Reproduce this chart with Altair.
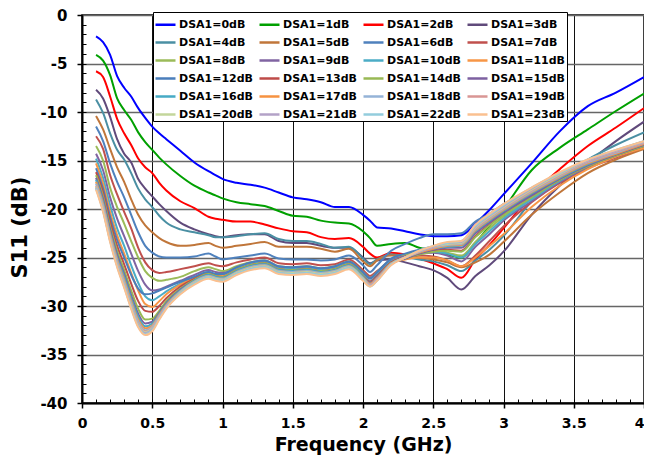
import altair as alt
import pandas as pd

FREQ = [0.1, 0.15, 0.2, 0.25, 0.3, 0.35, 0.4, 0.45, 0.5, 0.55, 0.6,
        0.7, 0.8, 0.9, 0.95, 1.0,
        1.1, 1.2, 1.3, 1.4, 1.5, 1.6, 1.7, 1.8, 1.9,
        2.0, 2.05, 2.1,
        2.2, 2.3, 2.4, 2.5, 2.6, 2.7, 2.8, 2.9, 3.0,
        3.2, 3.4, 3.6, 3.8, 4.0]

NAMES = ["DSA1=%ddB" % i for i in range(24)]

COLORS = ["#0000FF", "#00A000", "#FF0000", "#604A7B", "#4A8FA3", "#C0763A",
          "#4F81BD", "#C0504D", "#9BBB59", "#8064A2", "#4BACC6", "#F79646",
          "#4A7EBB", "#BE4B48", "#98B954", "#7D60A0", "#46AAC5", "#F69240",
          "#95B3D7", "#D99694", "#C3D69B", "#B3A2C7", "#93CDDD", "#FAC090"]

S0 = [-2.2, -2.8, -4.1, -6.3, -7.5, -8.4, -9.6, -10.6, -11.5, -12.2, -12.8,
      -14.0, -15.2, -16.1, -16.5, -16.9,
      -17.3, -17.5, -17.8, -18.3, -18.8, -19.0, -19.3, -19.8, -19.8,
      -20.6, -21.2, -21.9,
      -22.0, -22.3, -22.6, -22.8, -22.8, -22.7, -21.5, -20.1, -18.5,
      -15.3, -12.0, -9.4, -8.0, -6.4]
S1 = [-4.1, -4.7, -6.2, -8.6, -9.8, -10.8, -12.1, -13.1, -13.9, -14.7, -15.4,
      -16.6, -17.6, -18.3, -18.6, -18.9,
      -19.3, -19.5, -19.7, -20.2, -20.7, -20.8, -21.2, -21.4, -21.5,
      -22.3, -23.0, -23.8,
      -23.6, -23.5, -24.0, -24.3, -24.7, -25.0, -23.5, -21.8, -20.0,
      -16.0, -13.7, -11.8, -9.9, -8.1]
S2 = [-5.8, -6.4, -8.4, -10.7, -12.2, -13.4, -14.8, -15.7, -16.3, -17.3, -18.1,
      -19.2, -19.9, -20.8, -21.0, -21.1,
      -21.3, -21.3, -21.6, -22.0, -22.3, -22.4, -22.9, -23.1, -23.0,
      -23.9, -24.6, -25.0,
      -24.5, -24.7, -25.1, -25.6, -26.2, -27.1, -25.2, -23.7, -22.0,
      -18.5, -15.9, -13.5, -11.6, -9.6]
S3 = [-7.7, -8.6, -10.5, -12.8, -14.3, -15.2, -16.9, -17.9, -18.7, -19.5, -20.2,
      -21.4, -22.1, -22.6, -22.8, -22.9,
      -22.7, -22.6, -22.6, -23.3, -23.5, -23.5, -23.8, -24.0, -24.0,
      -25.0, -25.6, -25.3,
      -25.2, -25.5, -25.9, -26.3, -27.1, -28.3, -26.9, -25.8, -24.4,
      -20.6, -17.6, -15.2, -13.0, -11.0]
S4 = [-8.7, -10.1, -12.2, -13.9, -14.9, -16.3, -17.9, -19.0, -19.8, -20.7, -21.4,
      -22.1, -22.4, -22.7, -22.9, -22.9,
      -22.8, -22.6, -22.5, -23.1, -23.3, -23.3, -23.6, -24.0, -23.9,
      -25.1, -25.7, -25.2,
      -24.7, -24.9, -25.2, -25.4, -25.8, -26.4, -25.3, -24.2, -22.8,
      -19.2, -16.8, -14.9, -13.4, -12.1]
S5 = [-10.4, -11.8, -13.8, -15.7, -17.2, -19.0, -20.6, -21.7, -22.4, -23.0, -23.4,
      -23.8, -23.7, -23.5, -23.8, -24.0,
      -23.8, -23.6, -23.4, -23.9, -23.9, -23.9, -24.1, -24.4, -24.1,
      -25.4, -25.9, -25.3,
      -24.8, -24.8, -25.0, -25.2, -25.5, -26.0, -25.5, -24.7, -23.4,
      -20.6, -18.3, -16.3, -14.9, -13.8]
S6 = [-11.5, -13.0, -15.3, -17.2, -18.8, -20.6, -22.4, -23.8, -24.5, -24.9, -25.0,
      -25.0, -24.9, -24.6, -24.9, -25.2,
      -25.0, -24.8, -24.6, -25.1, -25.2, -25.2, -25.3, -25.2, -24.8,
      -25.8, -26.5, -25.8,
      -24.3, -23.6, -23.0, -22.6, -22.6, -22.5, -21.3, -20.5, -19.5,
      -18.0, -16.4, -15.0, -14.0, -13.0]
S7 = [-12.5, -13.8, -16.5, -18.5, -20.3, -22.0, -24.0, -25.5, -26.3, -26.6, -26.5,
      -26.2, -25.9, -25.6, -25.8, -25.9,
      -25.5, -25.2, -25.0, -25.6, -25.7, -25.6, -25.8, -25.7, -25.2,
      -26.3, -26.9, -26.4,
      -25.3, -24.9, -24.8, -24.9, -25.3, -25.9, -24.8, -23.3, -21.8,
      -19.3, -17.3, -15.8, -14.7, -13.6]
S8 = [-13.5, -15.0, -17.8, -19.8, -21.5, -23.3, -25.0, -26.4, -27.1, -27.4, -27.3,
      -27.0, -26.4, -26.0, -26.2, -26.4,
      -25.9, -25.5, -25.3, -25.9, -26.0, -25.9, -26.1, -25.9, -25.4,
      -26.5, -27.1, -26.5,
      -25.2, -24.7, -24.4, -24.3, -24.5, -24.8, -23.4, -22.0, -20.8,
      -18.9, -17.0, -15.6, -14.5, -13.5]
S9 = [-14.3, -16.0, -18.8, -21.0, -22.8, -24.6, -26.4, -27.8, -28.4, -28.3, -28.0,
      -27.4, -26.8, -26.3, -26.5, -26.6,
      -26.1, -25.6, -25.4, -26.0, -26.1, -26.0, -26.2, -26.0, -25.5,
      -26.6, -27.2, -26.6,
      -25.3, -24.9, -24.6, -24.5, -24.8, -25.4, -23.9, -22.6, -21.2,
      -19.2, -17.2, -15.7, -14.6, -13.6]
S10 = [-14.8, -16.8, -19.6, -22.0, -23.8, -25.8, -27.6, -29.0, -29.4, -29.0, -28.5,
       -27.7, -27.0, -26.5, -26.7, -26.8,
       -26.2, -25.7, -25.5, -26.1, -26.2, -26.1, -26.3, -26.1, -25.6,
       -26.8, -27.4, -26.8,
       -25.4, -25.0, -24.6, -24.4, -24.6, -25.0, -23.6, -22.3, -21.0,
       -19.0, -17.1, -15.6, -14.5, -13.5]
S11 = [-15.3, -17.4, -20.3, -22.7, -24.6, -26.6, -28.4, -29.8, -30.1, -29.5, -28.8,
       -27.8, -27.1, -26.6, -26.8, -26.9,
       -26.3, -25.8, -25.6, -26.2, -26.3, -26.2, -26.4, -26.2, -25.7,
       -26.9, -27.5, -27.0,
       -25.6, -25.2, -25.0, -25.0, -25.3, -25.9, -25.0, -23.8, -22.6,
       -19.8, -17.6, -15.9, -14.6, -13.7]
S12 = [-15.8, -17.9, -20.8, -23.2, -25.0, -26.8, -28.2, -28.8, -28.7, -28.4, -28.1,
       -27.5, -27.0, -26.5, -26.7, -26.7,
       -26.0, -25.5, -25.3, -25.9, -26.0, -25.9, -26.1, -25.9, -25.4,
       -26.5, -27.1, -26.5,
       -25.1, -24.6, -24.2, -23.9, -23.7, -23.7, -22.2, -21.2, -20.2,
       -18.5, -16.8, -15.4, -14.4, -13.3]
S13 = [-16.2, -18.3, -21.3, -23.8, -25.7, -27.7, -29.5, -30.5, -30.6, -30.0, -29.2,
       -28.0, -27.2, -26.7, -26.9, -27.0,
       -26.3, -25.8, -25.6, -26.2, -26.3, -26.2, -26.4, -26.2, -25.7,
       -26.9, -27.5, -26.9,
       -25.5, -25.0, -24.6, -24.3, -24.2, -24.3, -22.8, -21.6, -20.5,
       -18.7, -17.0, -15.6, -14.5, -13.5]
S14 = [-16.5, -18.7, -21.8, -24.3, -26.3, -28.4, -30.3, -31.4, -31.3, -30.5, -29.5,
       -28.2, -27.3, -26.7, -26.9, -27.0,
       -26.3, -25.8, -25.6, -26.2, -26.3, -26.2, -26.4, -26.2, -25.7,
       -26.9, -27.6, -27.0,
       -25.6, -25.1, -24.7, -24.4, -24.3, -24.4, -22.9, -21.7, -20.6,
       -18.8, -17.0, -15.6, -14.5, -13.5]
S15 = [-16.8, -19.0, -22.1, -24.7, -26.7, -28.9, -30.8, -31.8, -31.6, -30.7, -29.7,
       -28.3, -27.4, -26.8, -27.0, -27.1,
       -26.4, -25.9, -25.7, -26.3, -26.4, -26.3, -26.5, -26.3, -25.8,
       -27.0, -27.6, -27.0,
       -25.6, -25.1, -24.6, -24.2, -24.0, -24.0, -22.5, -21.4, -20.4,
       -18.6, -16.9, -15.5, -14.4, -13.4]
S16 = [-17.0, -19.3, -22.4, -25.0, -27.0, -29.2, -31.1, -32.1, -31.8, -30.8, -29.8,
       -28.4, -27.4, -26.8, -27.0, -27.1,
       -26.4, -25.9, -25.7, -26.3, -26.4, -26.3, -26.5, -26.3, -25.8,
       -27.0, -27.7, -27.1,
       -25.6, -25.0, -24.5, -24.1, -23.9, -23.8, -22.3, -21.2, -20.2,
       -18.4, -16.8, -15.4, -14.3, -13.3]
S17 = [-17.2, -19.5, -22.6, -25.2, -27.3, -29.5, -31.4, -32.3, -32.0, -30.9, -29.9,
       -28.5, -27.5, -26.9, -27.1, -27.2,
       -26.5, -26.0, -25.8, -26.4, -26.5, -26.4, -26.6, -26.4, -25.9,
       -27.1, -27.7, -27.1,
       -25.6, -25.0, -24.5, -24.1, -23.8, -23.7, -22.2, -21.1, -20.1,
       -18.3, -16.7, -15.3, -14.3, -13.3]
S18 = [-17.4, -19.7, -22.8, -25.4, -27.5, -29.7, -31.6, -32.5, -32.1, -31.0, -30.0,
       -28.5, -27.5, -26.9, -27.1, -27.2,
       -26.5, -26.0, -25.8, -26.4, -26.5, -26.4, -26.6, -26.4, -25.9,
       -27.1, -27.8, -27.2,
       -25.7, -25.0, -24.4, -24.0, -23.7, -23.6, -22.1, -21.0, -20.0,
       -18.2, -16.6, -15.2, -14.2, -13.2]
S19 = [-17.6, -19.9, -23.0, -25.6, -27.7, -29.9, -31.8, -32.6, -32.2, -31.1, -30.0,
       -28.6, -27.6, -27.0, -27.2, -27.3,
       -26.6, -26.1, -25.9, -26.5, -26.6, -26.5, -26.7, -26.5, -26.0,
       -27.2, -27.8, -27.2,
       -25.7, -25.0, -24.4, -24.0, -23.6, -23.5, -22.0, -20.9, -19.9,
       -18.1, -16.5, -15.1, -14.1, -13.2]
S20 = [-17.7, -20.0, -23.1, -25.7, -27.8, -30.0, -31.9, -32.7, -32.3, -31.2, -30.1,
       -28.6, -27.6, -27.0, -27.2, -27.3,
       -26.6, -26.1, -25.9, -26.5, -26.6, -26.5, -26.7, -26.5, -26.0,
       -27.2, -27.9, -27.3,
       -25.7, -25.0, -24.4, -23.9, -23.6, -23.5, -21.9, -20.8, -19.8,
       -18.0, -16.4, -15.0, -14.0, -13.1]
S21 = [-17.8, -20.1, -23.2, -25.8, -27.9, -30.1, -32.0, -32.8, -32.4, -31.2, -30.1,
       -28.7, -27.7, -27.1, -27.3, -27.4,
       -26.7, -26.2, -26.0, -26.6, -26.7, -26.6, -26.8, -26.6, -26.1,
       -27.3, -27.9, -27.3,
       -25.7, -25.0, -24.4, -23.9, -23.5, -23.4, -21.8, -20.7, -19.7,
       -17.9, -16.3, -15.0, -14.0, -13.1]
S22 = [-17.9, -20.2, -23.3, -25.9, -28.0, -30.2, -32.1, -32.9, -32.5, -31.3, -30.2,
       -28.7, -27.7, -27.1, -27.3, -27.4,
       -26.7, -26.2, -26.0, -26.6, -26.7, -26.6, -26.8, -26.6, -26.1,
       -27.3, -28.0, -27.4,
       -25.7, -25.0, -24.3, -23.8, -23.5, -23.3, -21.7, -20.6, -19.6,
       -17.8, -16.3, -14.9, -13.9, -13.0]
S23 = [-18.0, -20.3, -23.4, -26.0, -28.1, -30.3, -32.2, -33.0, -32.6, -31.4, -30.3,
       -28.8, -27.8, -27.2, -27.4, -27.5,
       -26.8, -26.3, -26.1, -26.7, -26.8, -26.7, -26.9, -26.7, -26.2,
       -27.4, -28.0, -27.4,
       -25.8, -25.0, -24.3, -23.8, -23.4, -23.3, -21.6, -20.5, -19.5,
       -17.8, -16.2, -14.9, -13.9, -13.0]

SERIES = [S0, S1, S2, S3, S4, S5, S6, S7, S8, S9, S10, S11,
          S12, S13, S14, S15, S16, S17, S18, S19, S20, S21, S22, S23]

X_TICKS = [0, 0.5, 1, 1.5, 2, 2.5, 3, 3.5, 4]
Y_TICKS = [-40, -35, -30, -25, -20, -15, -10, -5, 0]
X_MINOR = [round(i * 0.1, 1) for i in range(1, 40)]
Y_MINOR = list(range(-39, 0))

rows = []
for name, vals in zip(NAMES, SERIES):
    for f, v in zip(FREQ, vals):
        rows.append({"f": f, "s11": v, "series": name})
df = pd.DataFrame(rows)

FONT = "DejaVu Sans"
x_scale = alt.Scale(domain=[0, 4], nice=False, zero=False)
y_scale = alt.Scale(domain=[-40, 0], nice=False, zero=False)

minor = alt.Chart(df).mark_point(opacity=0, size=1).encode(
    x=alt.X("f:Q", scale=x_scale,
            axis=alt.Axis(values=X_MINOR, orient="bottom", offset=-4, tickSize=4,
                          tickColor="black", tickWidth=1, labels=False, domain=False,
                          grid=False, title=None)),
    y=alt.Y("s11:Q", scale=y_scale,
            axis=alt.Axis(values=Y_MINOR, orient="left", offset=-4, tickSize=4,
                          tickColor="black", tickWidth=1, labels=False, domain=False,
                          grid=False, title=None)),
)

lines = alt.Chart(df).mark_line(strokeWidth=2, interpolate="monotone", clip=True).encode(
    x=alt.X("f:Q", scale=x_scale,
            axis=alt.Axis(values=X_TICKS, orient="bottom", title="Frequency (GHz)",
                          labelExpr="'' + datum.value", grid=True, gridColor="#111",
                          gridWidth=1, tickSize=5, tickColor="black", tickWidth=1.5,
                          domainColor="black", domainWidth=2, labelFont=FONT,
                          labelFontWeight="bold", labelFontSize=14, labelColor="black",
                          labelPadding=8, titleFont=FONT, titleFontWeight="bold",
                          titleFontSize=19, titleColor="black", titlePadding=5,
                          labelAlign={"condition": {"test": "datum.value == 4",
                                                    "value": "right"},
                                      "value": "center"},
                          labelOverlap=False, labelFlush=False)),
    y=alt.Y("s11:Q", scale=y_scale,
            axis=alt.Axis(values=Y_TICKS, orient="left", title="S11 (dB)",
                          labelExpr="'' + datum.value", grid=True, gridColor="#666",
                          gridWidth=1.5, tickSize=5, tickColor="black", tickWidth=1.5,
                          domainColor="black", domainWidth=2, labelFont=FONT,
                          labelFontWeight="bold", labelFontSize=15, labelColor="black",
                          labelPadding=10, titleFont=FONT, titleFontWeight="bold",
                          titleFontSize=21, titleColor="black",
                          titleX=-52, titleY=212,
                          labelOverlap=False, labelFlush=False)),
    color=alt.Color("series:N", sort=NAMES,
                    scale=alt.Scale(domain=NAMES, range=COLORS),
                    legend=alt.Legend(title=None, orient="none", legendX=71, legendY=-3,
                                      direction="horizontal", columns=4,
                                      symbolType="stroke", symbolSize=400,
                                      symbolStrokeWidth=2.5, labelFont=FONT,
                                      labelFontWeight="bold", labelFontSize=11,
                                      labelColor="black", fillColor="white",
                                      strokeColor="black", padding=1, rowPadding=1,
                                      columnPadding=0, labelOffset=2, symbolOffset=0,
                                      labelLimit=200)),
)

chart = alt.layer(minor, lines).resolve_axis(
    x="independent", y="independent"
).properties(
    width=562, height=388, autosize="none",
    padding={"left": 74, "top": 7, "right": 0, "bottom": 52},
).configure_view(stroke="black", strokeWidth=1.5)

chart.save("out.html", embed_options={"renderer": "svg", "actions": False})
